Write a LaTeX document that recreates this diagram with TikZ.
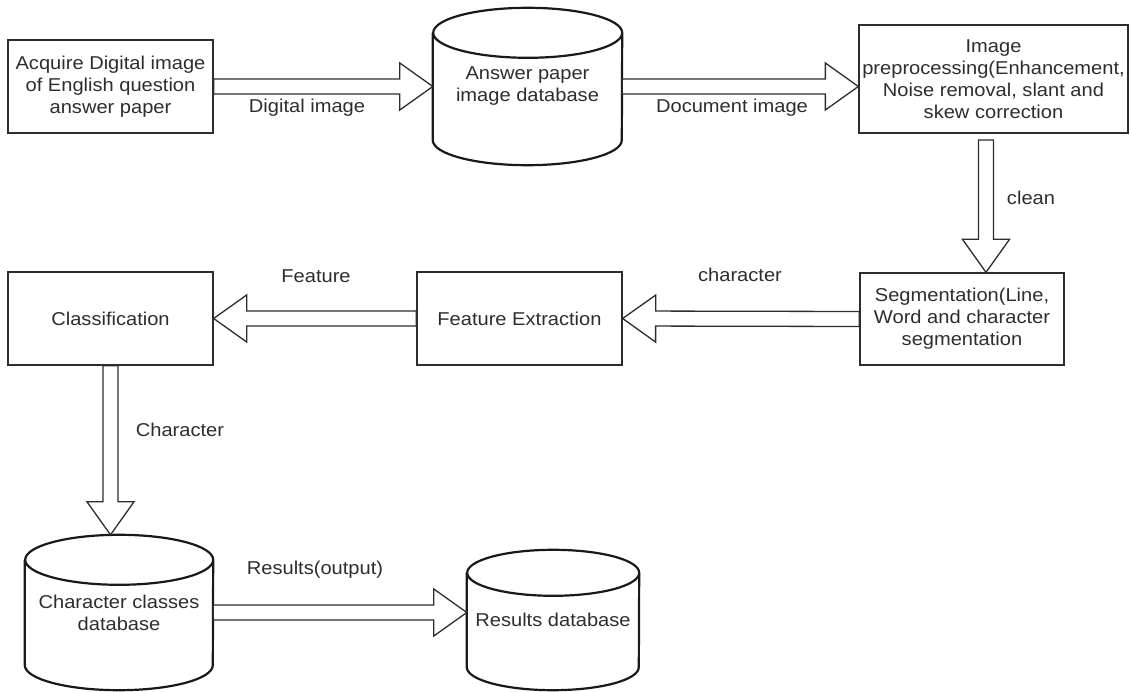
\documentclass[tikz,border=0pt]{standalone}
\usepackage{fontspec}
\setmainfont{Liberation Sans}[FakeStretch=1.08]
\usepackage{tikz}
\usetikzlibrary{calc}
\definecolor{ink}{RGB}{45, 45, 45}
\tikzset{stage/.style = {draw=ink, line width=1.3pt, align=center, text=ink, inner sep=0pt}}
\tikzset{store/.style = {align=center, text=ink, inner sep=0pt}}
\tikzset{storeline/.style = {draw=black!90, line width=2.2pt}}
\tikzset{flowlabel/.style = {text=ink, inner sep=0pt}}
\tikzset{hollow/.style = {draw=ink, line width=1.3pt, fill=white, line join=miter}}
\newcommand{\blockarrow}[2]{%
  \draw [hollow] let \p1 = (#1), \p2 = (#2),
      \n1 = {atan2(\y2-\y1, \x2-\x1)},
      \p3 = ($(\p2)+(\n1+180:33pt)$) in
    ($(\p1)+(\n1+90:7.5pt)$) -- ($(\p3)+(\n1+90:7.5pt)$) -- ($(\p3)+(\n1+90:23.5pt)$)
    -- (\p2) -- ($(\p3)+(\n1-90:23.5pt)$) -- ($(\p3)+(\n1-90:7.5pt)$)
    -- ($(\p1)+(\n1-90:7.5pt)$) -- cycle;}

\begin{document}
\begin{tikzpicture}[x=1pt, y=1pt, font=\fontsize{18.6}{22}\selectfont]
    \useasboundingbox (0, 0) rectangle (1130, -692);

    \node [stage, minimum width=205, minimum height=93] (acquire) at (110.5, -86.5) {Acquire Digital image\\of English question\\answer paper};

    \node [store, minimum width=189, minimum height=157] (answerdb) at (527.5, -86.5) {Answer paper\\image database};

    \node [stage, minimum width=269, minimum height=108] (prep) at (993.5, -79) {Image\\preprocessing(Enhancement,\\Noise removal, slant and\\skew correction};

    \node [stage, minimum width=204, minimum height=92] (seg) at (962, -319) {Segmentation(Line,\\Word and character\\segmentation};

    \node [stage, minimum width=205, minimum height=93] (extract) at (519.5, -318.5) {Feature Extraction};

    \node [stage, minimum width=205, minimum height=93] (classify) at (110.5, -318.5) {Classification};

    \node [store, minimum width=188, minimum height=155] (classdb) at (119, -612.5) {Character classes\\database};

    \node [store, minimum width=172, minimum height=140] (resultdb) at (553, -620) {Results database};

    \foreach \db/\rx/\ry in {answerdb/94.5/25, classdb/94/25, resultdb/86/23} {
        \draw [storeline] ($(\db.north west)+(0,-\ry)$) -- ($(\db.south west)+(0,\ry)$)
            arc [start angle=180, end angle=360, x radius=\rx, y radius=\ry]
            -- ($(\db.north east)+(0,-\ry)$)
            arc [start angle=0, end angle=180, x radius=\rx, y radius=\ry]
            arc [start angle=180, end angle=360, x radius=\rx, y radius=\ry];
    }

    \coordinate (cleantop) at (986, -140);

    \blockarrow{acquire.east}{answerdb.west}
    \blockarrow{answerdb.east}{prep.west |- answerdb.east}
    \blockarrow{cleantop}{cleantop |- seg.north}
    \blockarrow{seg.west}{extract.east}
    \blockarrow{extract.west}{classify.east}
    \blockarrow{classify.south}{classify.south |- classdb.north}
    \blockarrow{classdb.east}{resultdb.west |- classdb.east}

    \node [flowlabel] (digital) at (307, -108) {Digital image};
    \node [flowlabel] (document) at (732, -108) {Document image};
    \node [flowlabel] (clean) at (1031, -198) {clean};
    \node [flowlabel] (charlow) at (740, -275) {character};
    \node [flowlabel] (feature) at (316, -276) {Feature};
    \node [flowlabel] (charup) at (180, -430) {Character};
    \node [flowlabel] (results) at (315, -570) {Results(output)};
\end{tikzpicture}
\end{document}
